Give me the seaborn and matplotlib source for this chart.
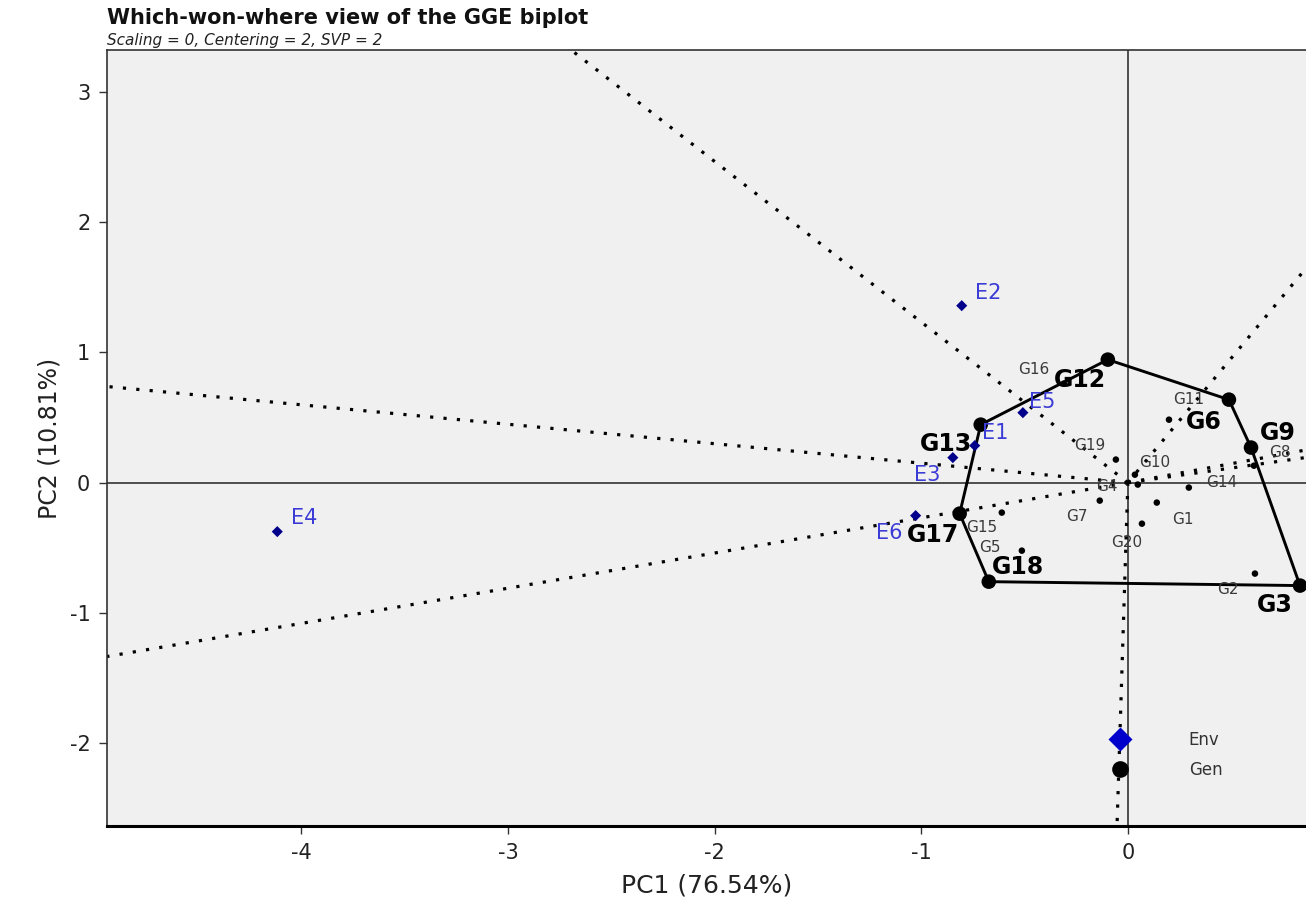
import numpy as np
import pandas as pd
import matplotlib
matplotlib.use("Agg")
import matplotlib.pyplot as plt
import seaborn as sns
from matplotlib.lines import Line2D

# ---------------- data ----------------
gen_names = ["G1", "G2", "G3", "G4", "G5", "G6", "G7", "G8", "G9", "G10",
             "G11", "G12", "G13", "G14", "G15", "G16", "G17", "G18", "G19", "G20"]
gen_pc1 = [0.140, 0.615, 0.833, 0.048, -0.513, 0.489, -0.136, 0.610, 0.596, 0.034,
           0.199, -0.097, -0.712, 0.295, -0.610, -0.310, -0.814, -0.673, -0.058, 0.068]
gen_pc2 = [-0.153, -0.698, -0.790, -0.015, -0.522, 0.637, -0.138, 0.130, 0.269, 0.061,
           0.483, 0.944, 0.445, -0.038, -0.230, 0.760, -0.238, -0.760, 0.177, -0.315]

env_names = ["E1", "E2", "E3", "E4", "E5", "E6"]
env_pc1 = [-0.741, -0.804, -0.847, -4.116, -0.508, -1.027]
env_pc2 = [0.284, 1.358, 0.192, -0.376, 0.537, -0.253]

x_ticks = [-4, -3, -2, -1, 0]
y_ticks = [-2, -1, 0, 1, 2, 3]

title = "Which-won-where view of the GGE biplot"
subtitle = "Scaling = 0, Centering = 2, SVP = 2"
x_label = "PC1 (76.54%)"
y_label = "PC2 (10.81%)"

# label offsets (pixels, right / down) -- layout only
gen_label_offset = {
    "G1": (26, 17), "G2": (-27, 16), "G3": (-25, 19), "G4": (-31, 2), "G5": (-32, -3),
    "G6": (-25, 22), "G7": (-23, 16), "G8": (26, -13), "G9": (27, -15), "G10": (20, -12),
    "G11": (20, -20), "G12": (-28, 20), "G13": (-35, 19), "G14": (33, -5), "G15": (-20, 15),
    "G16": (-30, -14), "G17": (-27, 21), "G18": (29, -15), "G19": (-26, -14), "G20": (-15, 19),
}
env_label_offset = {
    "E1": (20, -13), "E2": (26, -13), "E3": (-26, 17), "E4": (27, -14),
    "E5": (19, -11), "E6": (-26, 17),
}

gen_df = pd.DataFrame({"name": gen_names, "PC1": gen_pc1, "PC2": gen_pc2})
env_df = pd.DataFrame({"name": env_names, "PC1": env_pc1, "PC2": env_pc2})


def convex_hull(points):
    pts = sorted(set(points))
    def cross(o, a, b):
        return (a[0] - o[0]) * (b[1] - o[1]) - (a[1] - o[1]) * (b[0] - o[0])
    lower, upper = [], []
    for p in pts:
        while len(lower) >= 2 and cross(lower[-2], lower[-1], p) <= 0:
            lower.pop()
        lower.append(p)
    for p in reversed(pts):
        while len(upper) >= 2 and cross(upper[-2], upper[-1], p) <= 0:
            upper.pop()
        upper.append(p)
    return lower[:-1] + upper[:-1]  # counter-clockwise


hull = convex_hull(list(zip(gen_pc1, gen_pc2)))
hull_set = set(hull)
gen_df["vertex"] = [(x, y) in hull_set for x, y in zip(gen_pc1, gen_pc2)]
hull_closed = hull + [hull[0]]
hull_df = pd.DataFrame({"PC1": [p[0] for p in hull_closed],
                        "PC2": [p[1] for p in hull_closed],
                        "order": range(len(hull_closed))})

# ---------------- figure ----------------
sns.set_style("white")
plt.rcParams["font.family"] = ["DejaVu Sans"]
plt.rcParams["axes.unicode_minus"] = False

W, H = 1306, 899
fig = plt.figure(figsize=(W / 100, H / 100), dpi=100)
ax = fig.add_axes([107 / W, 1 - 826 / H, 1 - 107 / W, (826 - 50) / H])
ax.set_facecolor("#f0f0f0")

xlim = (-4.94, 0.862)
ylim = (-2.635, 3.32)

# rays perpendicular to hull sides
for i in range(len(hull)):
    a = hull[i]
    b = hull[(i + 1) % len(hull)]
    dx, dy = b[0] - a[0], b[1] - a[1]
    n = np.array([dy, -dx])
    n = n / np.hypot(*n)
    ax.plot([0, n[0] * 20], [0, n[1] * 20], color="black", lw=2.3,
            linestyle=(0, (1, 3.2)), zorder=2)

# axes through origin
ax.axhline(0, color="#333333", lw=1.2, zorder=1)
ax.axvline(0, color="#333333", lw=1.2, zorder=1)

# hull polygon
sns.lineplot(data=hull_df, x="PC1", y="PC2", sort=False, estimator=None,
             color="black", lw=2.1, ax=ax, zorder=3)

# genotype points
sns.scatterplot(data=gen_df[~gen_df["vertex"]], x="PC1", y="PC2", color="black",
                s=22, edgecolor="none", ax=ax, zorder=4)
sns.scatterplot(data=gen_df[gen_df["vertex"]], x="PC1", y="PC2", color="black",
                s=110, edgecolor="none", ax=ax, zorder=5)

# environment points
sns.scatterplot(data=env_df, x="PC1", y="PC2", color="#00008b", marker="D",
                s=32, edgecolor="none", ax=ax, zorder=4)

px2pt = 72 / 100
for _, r in gen_df.iterrows():
    ox, oy = gen_label_offset[r["name"]]
    if r["vertex"]:
        kw = dict(fontsize=17, fontweight="bold", color="black", zorder=7)
    else:
        kw = dict(fontsize=11, color="#3a3a3a", zorder=6)
    ax.annotate(r["name"], (r["PC1"], r["PC2"]), xytext=(ox * px2pt, -oy * px2pt),
                textcoords="offset points", ha="center", va="center", **kw)

for _, r in env_df.iterrows():
    ox, oy = env_label_offset[r["name"]]
    ax.annotate(r["name"], (r["PC1"], r["PC2"]), xytext=(ox * px2pt, -oy * px2pt),
                textcoords="offset points", ha="center", va="center",
                fontsize=15, color="#3b3bd6", zorder=6)

ax.set_xlim(*xlim)
ax.set_ylim(*ylim)
ax.set_xticks(x_ticks)
ax.set_yticks(y_ticks)
ax.set_xticklabels([str(t) for t in x_ticks])
ax.set_yticklabels([str(t) for t in y_ticks])
ax.tick_params(axis="both", which="major", labelsize=15, length=6, width=1,
               color="#333333", labelcolor="#222222", direction="out",
               bottom=True, left=True)
ax.tick_params(axis="x", pad=6)
ax.tick_params(axis="y", pad=6)

ax.set_xlabel(x_label, fontsize=18, color="#222222", labelpad=8)
ax.set_ylabel(y_label, fontsize=17, color="#222222", labelpad=6)

for side in ["left", "top"]:
    ax.spines[side].set_visible(True)
    ax.spines[side].set_color("#333333")
    ax.spines[side].set_linewidth(1.2)
ax.spines["bottom"].set_visible(True)
ax.spines["bottom"].set_color("black")
ax.spines["bottom"].set_linewidth(2.2)
ax.spines["right"].set_visible(False)

# legend
handles = [
    Line2D([], [], marker="D", color="none", markerfacecolor="#0000cc",
           markeredgecolor="none", markersize=12, label="Env"),
    Line2D([], [], marker="o", color="none", markerfacecolor="black",
           markeredgecolor="none", markersize=12, label="Gen"),
]
leg = ax.legend(handles=handles, loc="center left", frameon=False,
                bbox_to_anchor=(1112 / W, 1 - 755 / H), bbox_transform=fig.transFigure,
                borderpad=0, borderaxespad=0, handlelength=1.0, handletextpad=3.6,
                labelspacing=0.75, fontsize=12)
for t in leg.get_texts():
    t.set_color("#333333")
leg.set_zorder(8)

fig.text(107 / W, 1 - 18 / H, title, fontsize=15, fontweight="bold",
         ha="left", va="center", color="#111111")
fig.text(107 / W, 1 - 40 / H, subtitle, fontsize=11, fontstyle="italic",
         ha="left", va="center", color="#222222")

fig.savefig("out.png", dpi=100, facecolor="white")
